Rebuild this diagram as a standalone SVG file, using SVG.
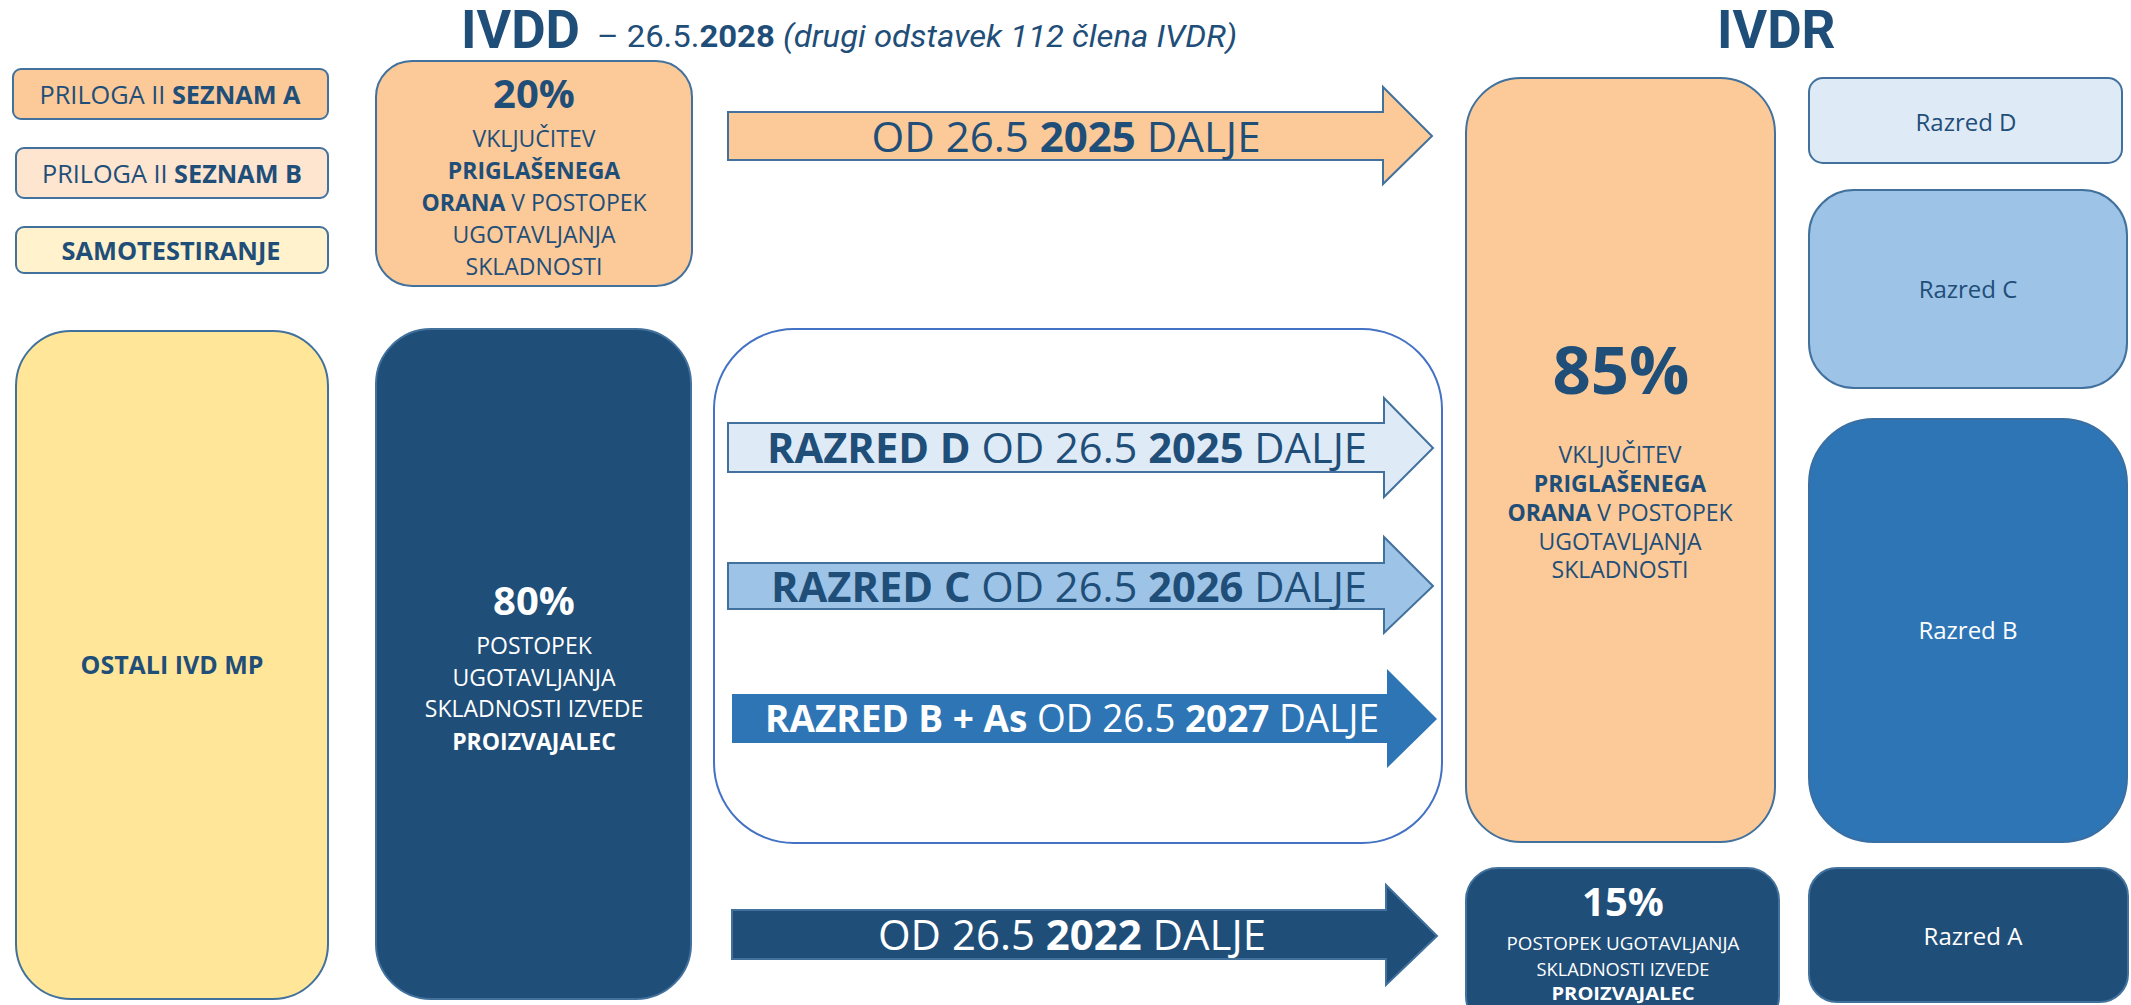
<svg xmlns="http://www.w3.org/2000/svg" width="2131" height="1005" viewBox="0 0 2131 1005">
<style>
.box{stroke:#41719c;stroke-width:2}
.t{font-family:"Open Sans","Liberation Sans",sans-serif;fill:#1f4e79;text-anchor:middle}
.w{fill:#ffffff}
.b{font-weight:700}
.r{font-family:Roboto,"Liberation Sans",sans-serif;fill:#1f4e79}
.arr{stroke:#41719c;stroke-width:2;stroke-linejoin:miter}
</style>
<rect width="2131" height="1005" fill="#ffffff"/>

<g id="titles">
<text class="r b" x="461" y="48" font-size="53">IVDD</text>
<text class="r" x="597" y="47" font-size="31" textLength="640" lengthAdjust="spacingAndGlyphs">– 26.5.<tspan font-weight="700">2028</tspan> <tspan font-style="italic">(drugi odstavek 112 člena IVDR)</tspan></text>
<text class="r b" x="1717" y="48" font-size="53">IVDR</text>
</g>

<g id="seznamA">
<rect class="box" x="13" y="69" width="315" height="50" rx="8" fill="#fbca98"/>
<text class="t" x="170" y="104" font-size="25" textLength="261" lengthAdjust="spacingAndGlyphs">PRILOGA II <tspan class="b">SEZNAM A</tspan></text>
</g>
<g id="seznamB">
<rect class="box" x="16" y="148" width="312" height="50" rx="8" fill="#fde5d0"/>
<text class="t" x="172" y="183" font-size="25" textLength="260" lengthAdjust="spacingAndGlyphs">PRILOGA II <tspan class="b">SEZNAM B</tspan></text>
</g>
<g id="samotestiranje">
<rect class="box" x="16" y="227" width="312" height="46" rx="8" fill="#fff2cc"/>
<text class="t b" x="171" y="260" font-size="25" textLength="219" lengthAdjust="spacingAndGlyphs">SAMOTESTIRANJE</text>
</g>

<g id="box20">
<rect class="box" x="376" y="61" width="316" height="225" rx="36" fill="#fbca98"/>
<text class="t b" x="534" y="108" font-size="40">20%</text>
<text class="t" x="534" y="147" font-size="23">VKLJUČITEV</text>
<text class="t b" x="534" y="179" font-size="23">PRIGLAŠENEGA</text>
<text class="t" x="534" y="211" font-size="23"><tspan class="b">ORANA</tspan> V POSTOPEK</text>
<text class="t" x="534" y="243" font-size="23">UGOTAVLJANJA</text>
<text class="t" x="534" y="275" font-size="23">SKLADNOSTI</text>
</g>

<g id="ostali">
<rect class="box" x="16" y="331" width="312" height="668" rx="55" fill="#ffe699"/>
<text class="t b" x="172" y="674" font-size="25" textLength="183" lengthAdjust="spacingAndGlyphs">OSTALI IVD MP</text>
</g>

<g id="box80">
<rect class="box" x="376" y="329" width="315" height="670" rx="55" fill="#1f4e79"/>
<text class="t w b" x="534" y="615" font-size="40">80%</text>
<text class="t w" x="534" y="654" font-size="23">POSTOPEK</text>
<text class="t w" x="534" y="686" font-size="23">UGOTAVLJANJA</text>
<text class="t w" x="534" y="717" font-size="23">SKLADNOSTI IZVEDE</text>
<text class="t w b" x="534" y="750" font-size="23">PROIZVAJALEC</text>
</g>

<g id="container">
<rect x="714" y="329" width="728" height="514" rx="80" fill="#ffffff" stroke="#4472c4" stroke-width="2"/>
</g>

<g id="box85">
<rect class="box" x="1466" y="78" width="309" height="764" rx="55" fill="#fbca98"/>
<text class="t b" x="1621" y="394" font-size="67">85%</text>
<text class="t" x="1620" y="463" font-size="23">VKLJUČITEV</text>
<text class="t b" x="1620" y="492" font-size="23">PRIGLAŠENEGA</text>
<text class="t" x="1620" y="521" font-size="23"><tspan class="b">ORANA</tspan> V POSTOPEK</text>
<text class="t" x="1620" y="550" font-size="23">UGOTAVLJANJA</text>
<text class="t" x="1620" y="578" font-size="23">SKLADNOSTI</text>
</g>

<g id="box15">
<rect class="box" x="1466" y="868" width="313" height="160" rx="32" fill="#1f4e79"/>
<text class="t w b" x="1623" y="916" font-size="40">15%</text>
<text class="t w" x="1623" y="950" font-size="18" textLength="233" lengthAdjust="spacingAndGlyphs">POSTOPEK UGOTAVLJANJA</text>
<text class="t w" x="1623" y="976" font-size="18" textLength="173" lengthAdjust="spacingAndGlyphs">SKLADNOSTI IZVEDE</text>
<text class="t w b" x="1623" y="1000" font-size="18" textLength="143" lengthAdjust="spacingAndGlyphs">PROIZVAJALEC</text>
</g>

<g id="razredD">
<rect class="box" x="1809" y="78" width="313" height="85" rx="14" fill="#deebf7"/>
<text class="t" x="1966" y="131" font-size="24">Razred D</text>
</g>
<g id="razredC">
<rect class="box" x="1809" y="190" width="318" height="198" rx="45" fill="#9dc3e6"/>
<text class="t" x="1968" y="298" font-size="24">Razred C</text>
</g>
<g id="razredB">
<rect x="1809" y="419" width="318" height="423" rx="65" fill="#2e75b6" stroke="#3a6fa3" stroke-width="2"/>
<text class="t w" x="1968" y="639" font-size="24">Razred B</text>
</g>
<g id="razredA">
<rect class="box" x="1809" y="868" width="319" height="134" rx="28" fill="#1f4e79"/>
<text class="t w" x="1973" y="945" font-size="24">Razred A</text>
</g>

<g id="connectors">
<g id="arrow2025">
<polygon class="arr" points="728,112 1383,112 1383,87 1432,136 1383,184 1383,160 728,160" fill="#fbca98"/>
<text class="t" x="1066" y="152" font-size="42" textLength="389" lengthAdjust="spacingAndGlyphs">OD 26.5 <tspan class="b">2025</tspan> DALJE</text>
</g>
<g id="arrowD">
<polygon class="arr" points="728,423 1384,423 1384,398 1433,448 1384,497 1384,472 728,472" fill="#deebf7"/>
<text class="t" x="1067" y="463" font-size="42" textLength="600" lengthAdjust="spacingAndGlyphs"><tspan class="b">RAZRED D</tspan> OD 26.5 <tspan class="b">2025</tspan> DALJE</text>
</g>
<g id="arrowC">
<polygon class="arr" points="728,563 1384,563 1384,537 1433,586 1384,633 1384,609 728,609" fill="#9dc3e6"/>
<text class="t" x="1069" y="602" font-size="42" textLength="596" lengthAdjust="spacingAndGlyphs"><tspan class="b">RAZRED C</tspan> OD 26.5 <tspan class="b">2026</tspan> DALJE</text>
</g>
<g id="arrowB">
<polygon points="732,694 1387,694 1387,669 1437,719 1387,768 1387,743 732,743" fill="#2e75b6"/>
<text class="t w" x="1072" y="732" font-size="38" textLength="614" lengthAdjust="spacingAndGlyphs"><tspan class="b">RAZRED B + As</tspan> OD 26.5 <tspan class="b">2027</tspan> DALJE</text>
</g>
<g id="arrow2022">
<polygon class="arr" points="732,910 1386,910 1386,885 1437,936 1386,985 1386,959 732,959" fill="#1f4e79"/>
<text class="t w" x="1072" y="950" font-size="42" textLength="388" lengthAdjust="spacingAndGlyphs">OD 26.5 <tspan class="b">2022</tspan> DALJE</text>
</g>
</g>
</svg>
